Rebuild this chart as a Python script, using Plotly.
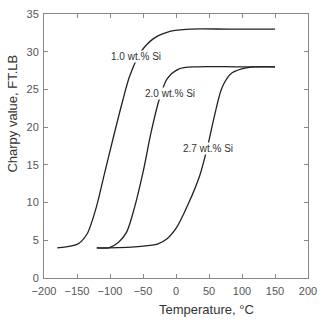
import plotly.graph_objects as go

x1 = [-180, -149, -135, -121, -109, -97, -82, -70, -53, -33, -9, 21, 80, 150]
y1 = [4.0, 4.5, 5.8, 9.3, 13.6, 17.9, 23.1, 26.8, 30.0, 31.8, 32.7, 33.0, 33.0, 33.0]

x2 = [-120, -102, -87, -75, -63, -50, -38, -26, -13.5, 4, 31, 90, 150]
y2 = [4.0, 4.0, 4.75, 6.05, 9.3, 14.0, 19.2, 23.5, 26.4, 27.7, 28.0, 28.0, 28.0]

x3 = [-120, -102, -53, -28, -13.5, 1, 18, 36, 48, 58, 70, 85, 109, 150]
y3 = [4.0, 4.0, 4.2, 4.5, 5.2, 6.7, 9.7, 13.6, 17.5, 21.4, 25.3, 27.2, 27.9, 28.0]

labels = ["1.0 wt.% Si", "2.0 wt.% Si", "2.7 wt.% Si"]
label_x = [-60, -9, 49]
label_y = [29.3, 24.5, 17.2]

FONT = "Liberation Sans"

fig = go.Figure()
for xs, ys in [(x1, y1), (x2, y2), (x3, y3)]:
    fig.add_trace(go.Scatter(x=xs, y=ys, mode="lines",
                             line=dict(color="#222", width=1.3, shape="spline", smoothing=0.8),
                             showlegend=False))

for t, lx, ly in zip(labels, label_x, label_y):
    fig.add_annotation(x=lx, y=ly, text=t, showarrow=False,
                       font=dict(size=10, color="#333", family=FONT),
                       bgcolor="white", borderpad=0)

axis_common = dict(showline=True, linecolor="#888", linewidth=1, mirror="ticks",
                   ticks="inside", ticklen=4, tickcolor="#888", showgrid=False,
                   zeroline=False, tickfont=dict(size=11, color="#555", family=FONT))

fig.update_xaxes(range=[-200, 200], tickvals=[-200, -150, -100, -50, 0, 50, 100, 150, 200],
                 ticklabelstandoff=3, **axis_common)
fig.update_yaxes(range=[0, 35], tickvals=[0, 5, 10, 15, 20, 25, 30, 35],
                 ticklabelstandoff=2, **axis_common)

# axis titles (offset as in the reference)
fig.add_annotation(xref="paper", yref="paper", x=(211 - 44) / 271, y=-(310 - 278) / 270,
                   text="Temperature, °C", showarrow=False, xanchor="center", yanchor="middle",
                   font=dict(size=13, color="#333", family=FONT))
fig.add_annotation(xref="paper", yref="paper", x=-(44 - 12) / 271, y=(278 - 110) / 270,
                   text="Charpy value, FT.LB", showarrow=False, textangle=-90,
                   xanchor="center", yanchor="middle",
                   font=dict(size=13, color="#333", family=FONT))

fig.update_layout(width=325, height=325, margin=dict(l=44, r=10, t=8, b=47),
                  plot_bgcolor="white", paper_bgcolor="white")

fig.write_html("out.html")
